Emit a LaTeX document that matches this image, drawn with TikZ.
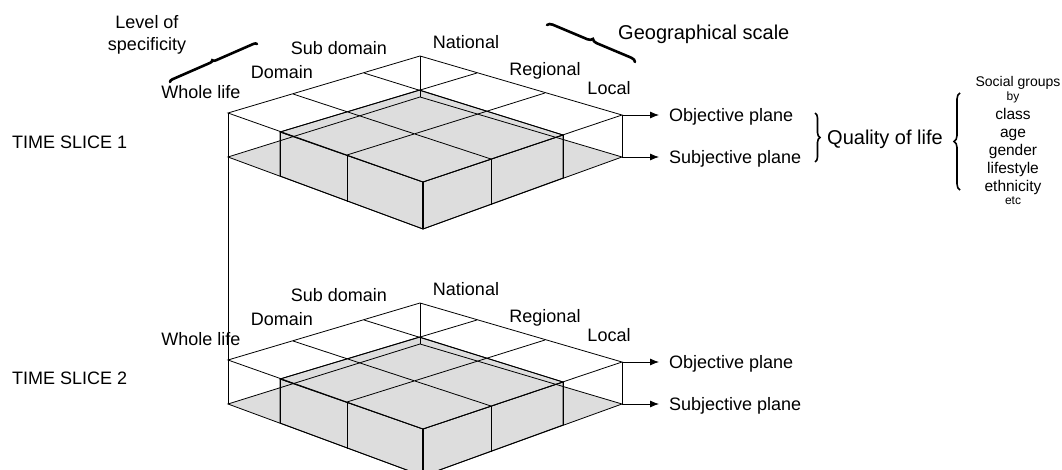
\documentclass[tikz,border=0pt]{standalone}
\usepackage{fontspec}
\setmainfont{Liberation Sans}
\usetikzlibrary{arrows.meta,decorations.pathreplacing}

\definecolor{slabgray}{RGB}{221,221,221}

\tikzset{
  lbl/.style={inner sep=0pt, text height=13pt, text depth=0pt, font=\fontsize{18}{22}\selectfont},
  plane/.style={lbl, anchor=west, outer xsep=10pt},
  grp/.style={inner sep=0pt, anchor=base, font=\fontsize{15.5}{18}\selectfont},
  edge/.style={line width=0.8pt},
  arr/.style={line width=0.8pt, -{Latex[length=9pt,width=7pt]}},
  squiggle/.style={decorate, decoration={brace, amplitude=#1}, line width=2.6pt, line cap=round},
  curly/.style={decorate, decoration={brace, amplitude=#1}, line width=1.6pt},
}

\begin{document}
\begin{tikzpicture}[x=1pt,y=-1pt]
\useasboundingbox (0,0) rectangle (1062,470);
\clip (0,0) rectangle (1062,470);

\foreach \i/\dy/\ty in {1/0/142,2/247/378}{
\begin{scope}[yshift=-\dy pt]
% objective plane (top) and subjective plane (bottom)
\coordinate (L\i) at (228,113);
\coordinate (B\i) at (420,56);
\coordinate (R\i) at (622,115);
\coordinate (F\i) at (423,182);
\coordinate (Lb\i) at (228,157);
\coordinate (Bb\i) at (420,97);
\coordinate (Rb\i) at (622,157);
\coordinate (Fb\i) at (423,229);
% cell divisions
\coordinate (Pa\i) at (293,94);
\coordinate (Pb\i) at (364,73);
\coordinate (Qa\i) at (477,73);
\coordinate (Qb\i) at (545,93);
\coordinate (Sa\i) at (280,132);
\coordinate (Sb\i) at (347,155);
\coordinate (Ta\i) at (491,159);
\coordinate (Tb\i) at (563,135);
\coordinate (Sad\i) at (280,176);
\coordinate (Sbd\i) at (347,202);
\coordinate (Tad\i) at (491,205);
\coordinate (Tbd\i) at (563,178);
\coordinate (X\i) at (419.5,90);

\fill[slabgray] (Lb\i)--(Bb\i)--(Rb\i)--(Fb\i)--cycle;
\filldraw[fill=slabgray, edge] (Sa\i)--(F\i)--(Fb\i)--(Sad\i)--cycle;
\filldraw[fill=slabgray, edge] (F\i)--(Tb\i)--(Tbd\i)--(Fb\i)--cycle;
\filldraw[fill=slabgray, edge] (F\i)--(Sa\i)--(X\i)--(Tb\i)--cycle;
\draw[edge] (Lb\i)--(Bb\i)--(Rb\i)--(Fb\i)--cycle;
\draw[edge] (B\i)--(Bb\i) (R\i)--(Rb\i);
\draw[edge] (Sa\i)--(Sad\i) (Sb\i)--(Sbd\i) (Ta\i)--(Tad\i) (Tb\i)--(Tbd\i);
\draw[line width=1.3pt] (F\i)--(Fb\i);
\draw[edge] (L\i)--(B\i)--(R\i)--(F\i)--cycle;
\draw[edge] (Pa\i)--(Ta\i) (Pb\i)--(Tb\i) (Sa\i)--(Qa\i) (Sb\i)--(Qb\i);

\node[lbl] (whole\i) at (201,92) {Whole life};
\node[lbl] (dom\i) at (282,72) {Domain};
\node[lbl] (sub\i) at (339,48) {Sub domain};
\node[lbl] (nat\i) at (466,42) {National};
\node[lbl] (reg\i) at (545,69) {Regional};
\node[lbl] (loc\i) at (609,88) {Local};

\node[plane] (obj\i) at (659,115) {Objective plane};
\node[plane] (subj\i) at (659,157) {Subjective plane};
\draw[arr] (R\i) -- (obj\i.west);
\draw[arr] (Rb\i) -- (subj\i.west);
\end{scope}
\node[lbl, anchor=west] (slice\i) at (12,\ty) {TIME SLICE \i};
}

\draw[edge] (L1) -- (Lb2);

% axes of the grid
\node[lbl, align=center, text height=, text depth=] (spec) at (147,35) {Level of\\specificity};
\node[lbl, anchor=west, text height=14.3pt, font=\fontsize{20}{24}\selectfont] (geo) at (618,32) {Geographical scale};
\coordinate (sp1) at (170,82);
\coordinate (sp2) at (257,44);
\coordinate (ge1) at (547,25);
\coordinate (ge2) at (635,62);
\draw[squiggle=3pt] (sp1) -- (sp2);
\draw[squiggle=5pt] (ge1) -- (ge2);

% quality of life and groups
\coordinate (qa) at (815,113);
\coordinate (qb) at (815,162);
\draw[curly=5pt] (qa) -- (qb);
\node[lbl, anchor=west, text height=14.3pt, font=\fontsize{20}{24}\selectfont] (qol) at (827,137) {Quality of life};
\coordinate (ga) at (960,190);
\coordinate (gb) at (960,93);
\draw[curly=6pt] (ga) -- (gb);
\node[grp, font=\fontsize{14}{16}\selectfont] (social) at (1018,87) {Social groups};
\node[grp, font=\fontsize{12}{14}\selectfont] (by) at (1013,101) {by};
\foreach \w/\y [count=\k] in {class/119.5,age/137.5,gender/155.5,lifestyle/173.5,ethnicity/191.5}
  \node[grp] (grp\k) at (1013,\y) {\w};
\node[grp, font=\fontsize{12}{14}\selectfont] (etc) at (1013,205) {etc};
\end{tikzpicture}
\end{document}
